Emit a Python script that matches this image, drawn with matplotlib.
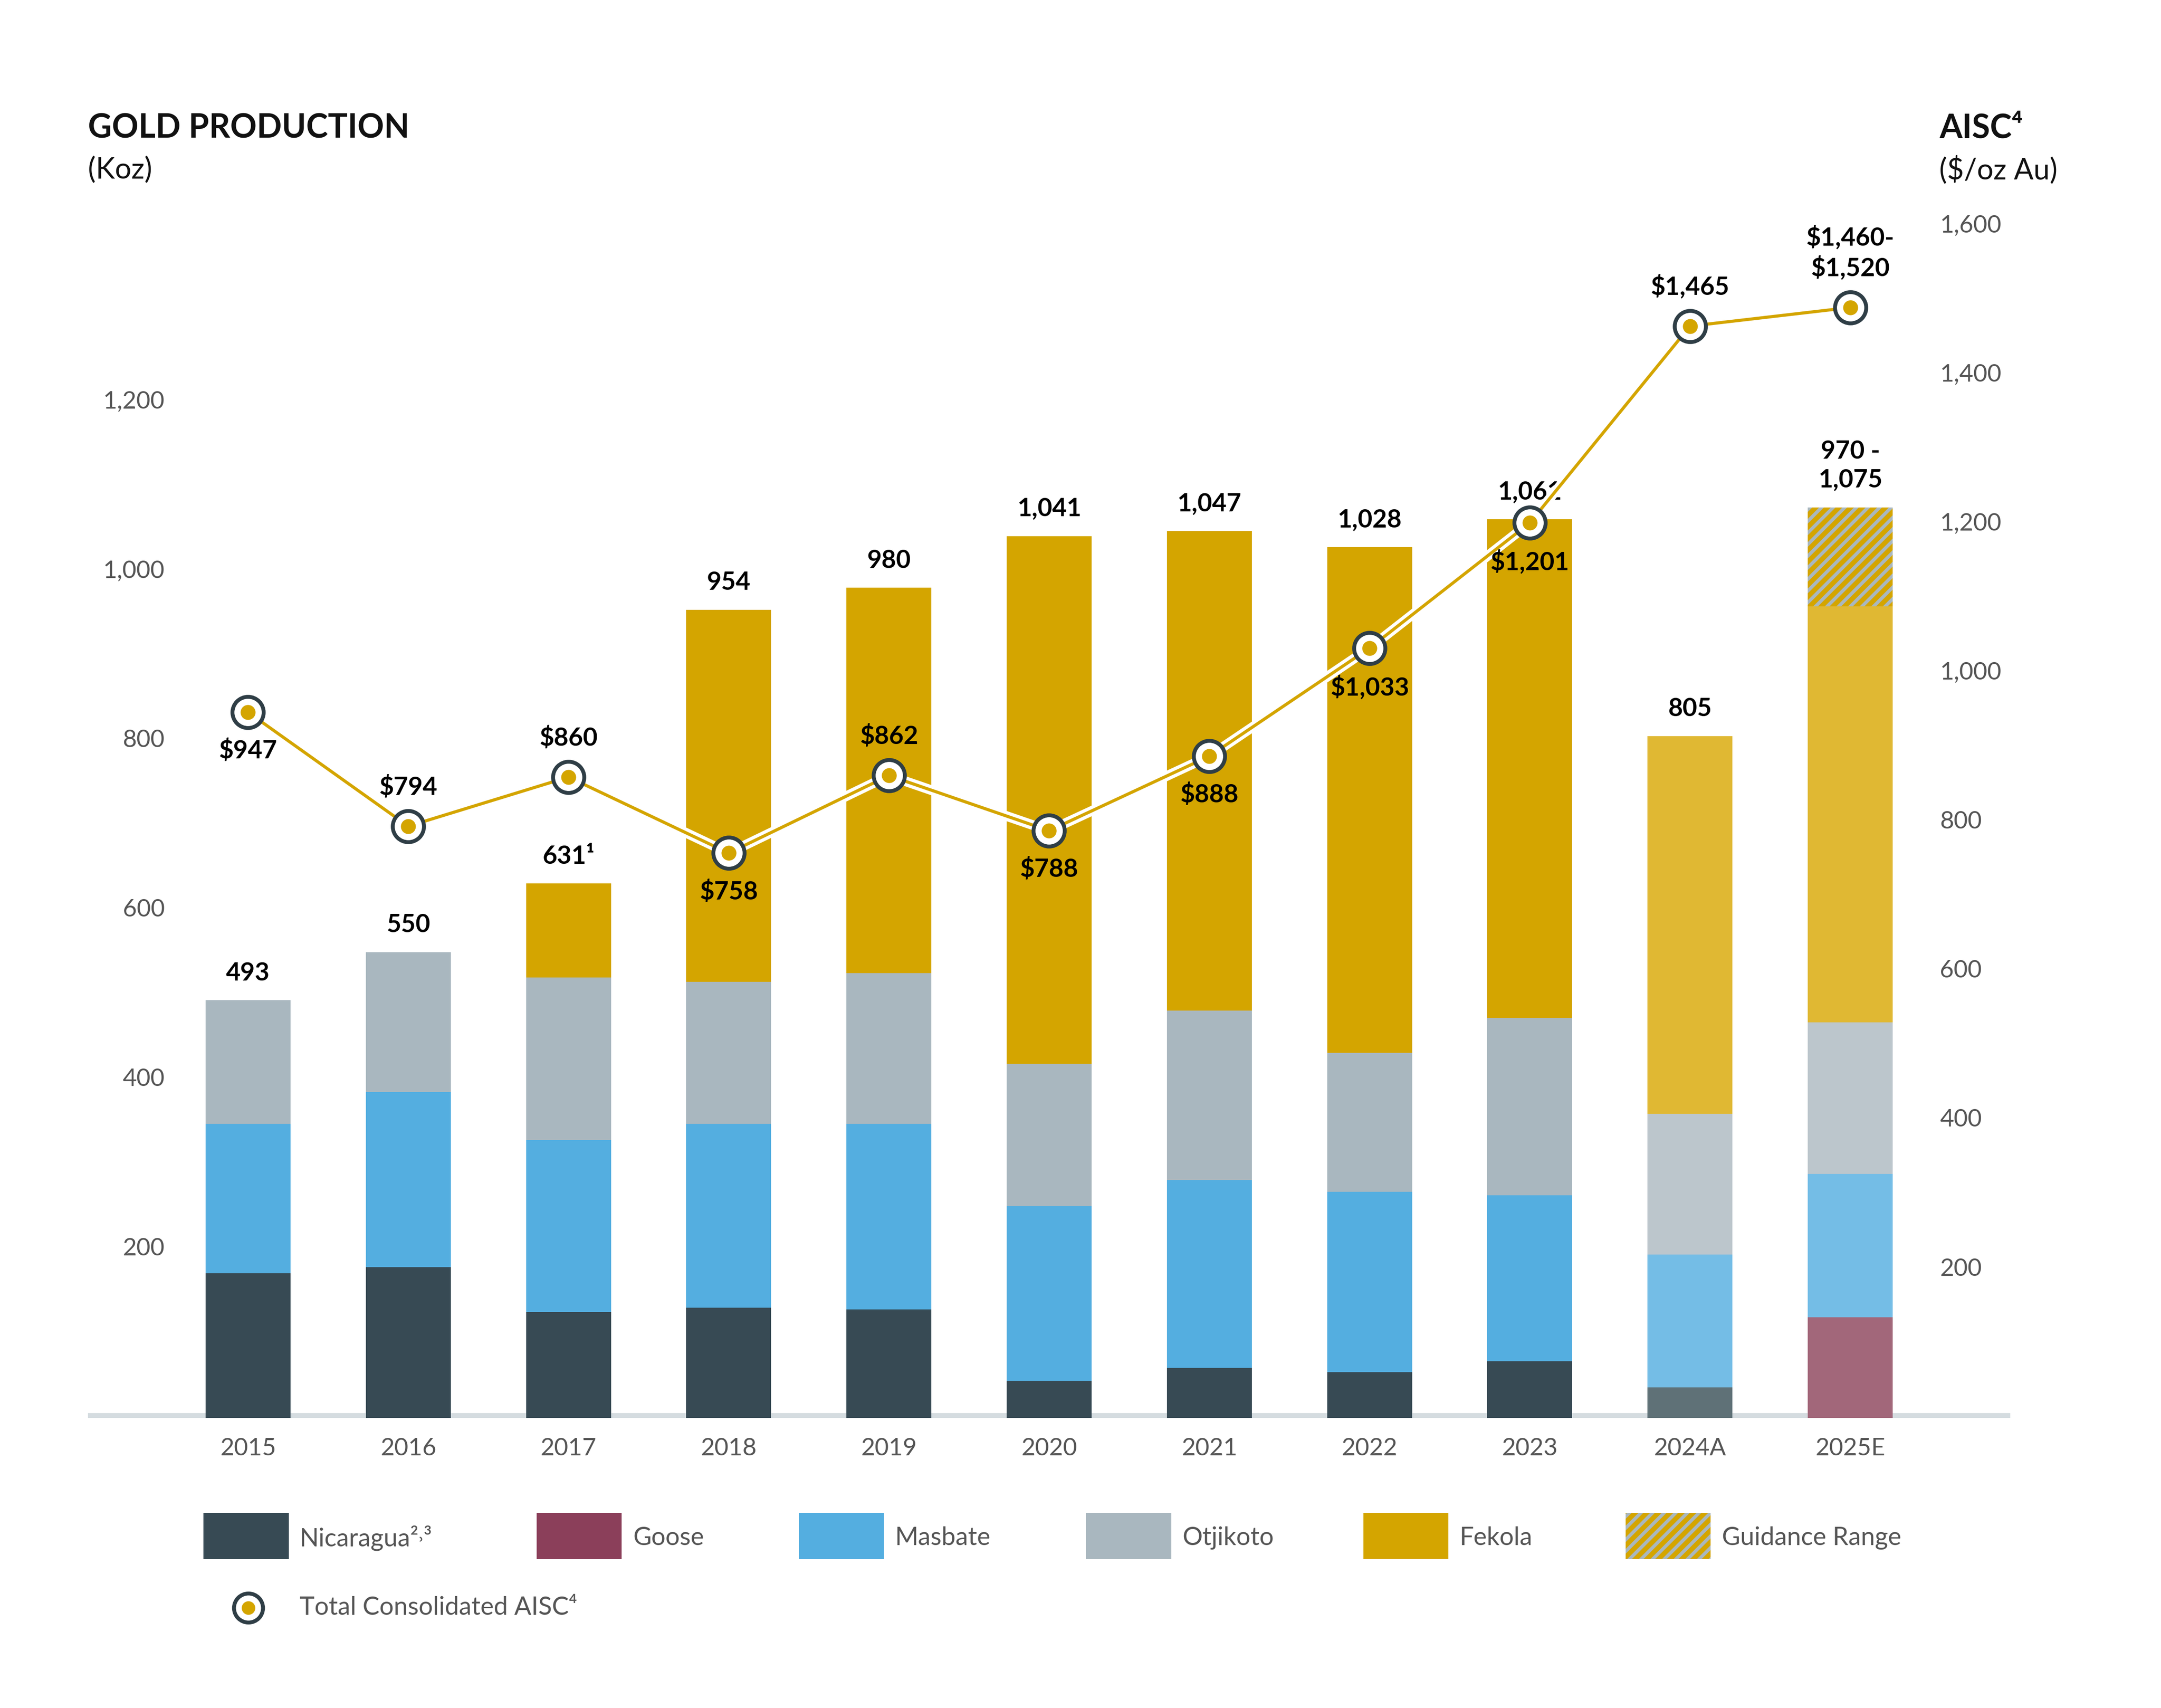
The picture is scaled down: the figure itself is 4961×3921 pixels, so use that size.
import matplotlib.pyplot as plt
from matplotlib.patches import Rectangle
from matplotlib.lines import Line2D
import numpy as np

plt.rcParams['font.family'] = ['Lato', 'DejaVu Sans']
plt.rcParams['hatch.linewidth'] = 2.5

years = ['2015', '2016', '2017', '2018', '2019', '2020', '2021', '2022', '2023', '2024A', '2025E']
nicaragua = [171, 178, 125, 130, 128, 44, 59, 54, 67, 36, 0]
goose = [0, 0, 0, 0, 0, 0, 0, 0, 0, 0, 119]
masbate = [176, 207, 203, 217, 219, 206, 222, 213, 196, 157, 169]
otjikoto = [146, 165, 192, 168, 178, 168, 200, 164, 209, 166, 179]
fekola = [0, 0, 111, 439, 455, 623, 566, 597, 589, 446, 491]
guidance = [0, 0, 0, 0, 0, 0, 0, 0, 0, 0, 117]
total_labels = ['493', '550', '631¹', '954', '980', '1,041', '1,047', '1,028', '1,061', '805', '970 -\n1,075']
aisc = [947, 794, 860, 758, 862, 788, 888, 1033, 1201, 1465, 1490]
aisc_labels = ['$947', '$794', '$860', '$758', '$862', '$788', '$888', '$1,033', '$1,201', '$1,465', '$1,460-\n$1,520']
aisc_above = [False, True, True, False, True, False, False, False, False, True, True]
left_ticks = [200, 400, 600, 800, 1000, 1200]
right_ticks = [200, 400, 600, 800, 1000, 1200, 1400, 1600]

# colours: actual years vs 2024A/2025E lighter
c_actual = {'nic': '#374a54', 'goose': '#8b3f5a', 'mas': '#54aee0', 'otj': '#a9b7bf', 'fek': '#d4a500'}
c_light = {'nic': '#5f7177', 'goose': '#a2677a', 'mas': '#74bde6', 'otj': '#bcc6cc', 'fek': '#e0b833'}
gold = '#d4a500'
dark = '#2f3e46'
txt = '#555555'

W, H = 1550, 1225
fig = plt.figure(figsize=(4961 / 320, 3921 / 320), dpi=320)


def px(x, y):
    return (x / W, 1 - y / H)


ax = fig.add_axes([63 / W, 1 - 1017 / H, (1442 - 63) / W, (1017 - 150) / H])
ax2 = ax.twinx()
ax.set_xlim(-1, 11)
ax.set_ylim(0, 1427)
ax2.set_ylim(0, 1622)
for a in (ax, ax2):
    for s in a.spines.values():
        s.set_visible(False)
    a.set_yticks([])
ax.set_xticks(range(len(years)))
ax.set_xticklabels(years, fontsize=12.5, color=txt)
ax.tick_params(axis='x', length=0, pad=10)
ax.axhline(0, color='#d5dce0', lw=5, zorder=1)

x = np.arange(len(years))
w = 0.53
for i in range(len(years)):
    c = c_light if i >= 9 else c_actual
    bottom = 0
    for key, vals in [('nic', nicaragua), ('goose', goose), ('mas', masbate), ('otj', otjikoto), ('fek', fekola)]:
        if vals[i] > 0:
            ax.bar(x[i], vals[i], w, bottom=bottom, color=c[key], zorder=2)
            bottom += vals[i]
    if guidance[i] > 0:
        ax.bar(x[i], guidance[i], w, bottom=bottom, color='#a9b7bf', hatch='////',
               edgecolor=gold, lw=0, zorder=2)
        bottom += guidance[i]
    ax.annotate(total_labels[i], (x[i], bottom), xytext=(0, 8), textcoords='offset points',
                ha='center', va='bottom', fontsize=13, fontweight='bold', color='black',
                linespacing=1.3, zorder=5)

for t in left_ticks:
    ax.text(-0.52, t, f'{t:,}', ha='right', va='center', fontsize=12.5, color=txt)
for t in right_ticks:
    ax2.text(10.56, t, f'{t:,}', ha='left', va='center', fontsize=12.5, color=txt)

ax2.plot(x, aisc, color='white', lw=5, zorder=3, solid_capstyle='round')
ax2.plot(x, aisc, color=gold, lw=1.6, zorder=4)
ax2.scatter(x, aisc, s=260, facecolor='white', edgecolor=dark, lw=2, zorder=5)
ax2.scatter(x, aisc, s=45, color=gold, zorder=6)
for i in range(len(years)):
    off = 14 if aisc_above[i] else -14
    ax2.annotate(aisc_labels[i], (x[i], aisc[i]), xytext=(0, off), textcoords='offset points',
                 ha='center', va='bottom' if aisc_above[i] else 'top', fontsize=13,
                 fontweight='bold', color='black', linespacing=1.3, zorder=7)

fig.text(*px(63, 92), 'GOLD PRODUCTION', fontsize=17, fontweight='bold', va='center', color='#111111')
fig.text(*px(63, 122), '(Koz)', fontsize=15, va='center', color='#111111')
fig.text(*px(1391, 92), 'AISC⁴', fontsize=17, fontweight='bold', va='center', color='#111111')
fig.text(*px(1391, 122), '($/oz Au)', fontsize=15, va='center', color='#111111')

legend_items = [(146, 'Nicaragua²˒³', c_actual['nic'], None), (385, 'Goose', c_actual['goose'], None),
                (573, 'Masbate', c_actual['mas'], None), (779, 'Otjikoto', c_actual['otj'], None),
                (978, 'Fekola', c_actual['fek'], None), (1166, 'Guidance Range', '#a9b7bf', '////')]
for lx, label, col, hatch in legend_items:
    x0, y0 = px(lx, 1118)
    fig.add_artist(Rectangle((x0, y0), 61 / W, 33 / H, transform=fig.transFigure,
                             facecolor=col, hatch=hatch, edgecolor=gold if hatch else col, lw=0))
    fig.text(*px(lx + 69, 1103), label, fontsize=13, va='center', color=txt)

mx, my = px(178, 1153)
fig.add_artist(Line2D([mx], [my], marker='o', markersize=15, markerfacecolor='white',
                      markeredgecolor=dark, markeredgewidth=2, transform=fig.transFigure))
fig.add_artist(Line2D([mx], [my], marker='o', markersize=6, color=gold, transform=fig.transFigure))
fig.text(*px(215, 1153), 'Total Consolidated AISC⁴', fontsize=13, va='center', color=txt)

fig.savefig('out.png', dpi=320, facecolor='white')
